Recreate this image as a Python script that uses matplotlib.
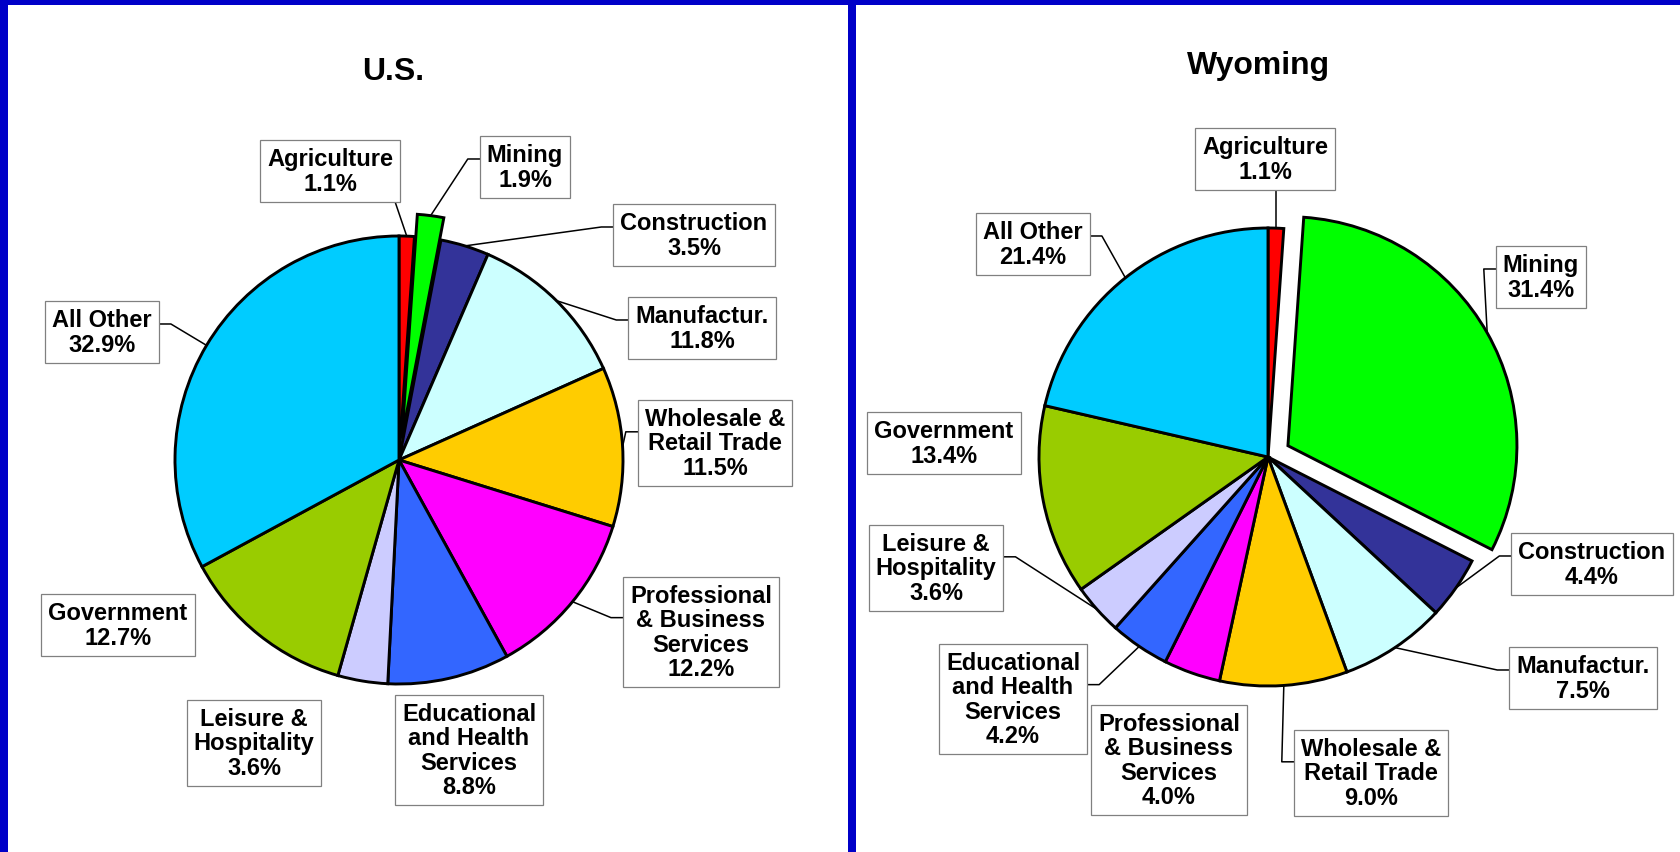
import numpy as np
import matplotlib
matplotlib.use("Agg")
import matplotlib.pyplot as plt
from matplotlib.patches import Rectangle

plt.rcParams['font.family'] = ['Liberation Sans', 'DejaVu Sans']

# data
sectors = ["Agriculture", "Mining", "Construction", "Manufactur.",
           "Wholesale &\nRetail Trade", "Professional\n& Business\nServices",
           "Educational\nand Health\nServices", "Leisure &\nHospitality",
           "Government", "All Other"]
colors = ["#FF0000", "#00FF00", "#333399", "#CCFFFF", "#FFCC00",
          "#FF00FF", "#3366FF", "#CCCCFF", "#99CC00", "#00CCFF"]
us_share = [1.1, 1.9, 3.5, 11.8, 11.5, 12.2, 8.8, 3.6, 12.7, 32.9]
wy_share = [1.1, 31.4, 4.4, 7.5, 9.0, 4.0, 4.2, 3.6, 13.4, 21.4]
explode = [0, 0.1, 0, 0, 0, 0, 0, 0, 0, 0]  # fraction of radius

# layout (image pixel coords, y down)
W, H = 1680, 853
us_center, us_radius = (399, 461), 224
wy_center, wy_radius = (1268, 458), 229
us_label_pos = [(330, 172), (525, 168), (694, 236), (702, 329), (715, 444),
                (701, 633), (469, 751), (254, 744), (118, 626), (102, 333)]
wy_label_pos = [(1265, 160), (1541, 278), (1592, 565), (1583, 679), (1371, 774),
                (1169, 761), (1013, 700), (936, 569), (944, 444), (1033, 245)]
us_leader = ['vert', 'side', 'side', 'side', 'side', 'side', None, None, None, 'side']
wy_leader = ['vert', 'side', 'side', 'side', 'side', None, 'side', 'side', None, 'side']

fig = plt.figure(figsize=(W / 100, H / 100), dpi=100)
ax = fig.add_axes([0, 0, 1, 1])


def draw_panel(shares, center, radius, label_pos, leader, title, title_pos):
    cx, cy = center[0], H - center[1]
    ax.pie(shares, colors=colors, explode=[e * radius for e in explode],
           startangle=90, counterclock=False,
           center=(cx, cy), radius=radius, frame=True,
           wedgeprops=dict(edgecolor='black', linewidth=2.1))
    ax.text(title_pos[0], H - title_pos[1], title, ha='center', va='center',
            fontsize=23, fontweight='bold')
    texts = []
    cum = 0
    for i, v in enumerate(shares):
        mid = 90 - 360 * (cum + v / 2) / 100
        cum += v
        r = radius * (1 + explode[i])
        ex, ey = cx + r * np.cos(np.radians(mid)), cy + r * np.sin(np.radians(mid))
        t = ax.text(label_pos[i][0], H - label_pos[i][1], f"{sectors[i]}\n{v:.1f}%",
                    ha='center', va='center', multialignment='center',
                    fontsize=17, fontweight='bold', linespacing=1.08, zorder=5,
                    bbox=dict(boxstyle='square,pad=0.3', facecolor='white',
                              edgecolor='#808080', linewidth=0.9))
        texts.append((t, ex, ey, leader[i]))
    return texts


us_texts = draw_panel(us_share, us_center, us_radius, us_label_pos, us_leader,
                      "U.S.", (393, 72))
wy_texts = draw_panel(wy_share, wy_center, wy_radius, wy_label_pos, wy_leader,
                      "Wyoming", (1259, 66))

ax.set_xlim(0, W)
ax.set_ylim(0, H)
ax.axis('off')

# leader lines, computed from rendered label boxes
fig.canvas.draw()
inv = ax.transData.inverted()
for t, ex, ey, mode in us_texts + wy_texts:
    if mode is None:
        continue
    bb = t.get_bbox_patch().get_window_extent()
    (x0, y0), (x1, y1) = inv.transform([(bb.x0, bb.y0), (bb.x1, bb.y1)])
    if mode == 'vert':
        xa = min(max(ex, x0 + 5), x1 - 5)
        ya = y0 if ey < y0 else y1
        xs, ys = [ex, xa], [ey, ya]
    else:
        ay = y1 - 0.37 * (y1 - y0)
        if ex < (x0 + x1) / 2:
            xs, ys = [ex, x0 - 12, x0], [ey, ay, ay]
        else:
            xs, ys = [ex, x1 + 12, x1], [ey, ay, ay]
    ax.plot(xs, ys, color='black', linewidth=1.1, zorder=4)

# blue frame
blue = "#0000C8"
for rect in [(0, H - 6, W, 6), (0, 0, 8, H), (848, 0, 8, H)]:
    fig.patches.append(Rectangle(rect[:2], rect[2], rect[3], transform=ax.transData,
                                 facecolor=blue, edgecolor='none', zorder=10))

fig.savefig("out.png", dpi=100)
